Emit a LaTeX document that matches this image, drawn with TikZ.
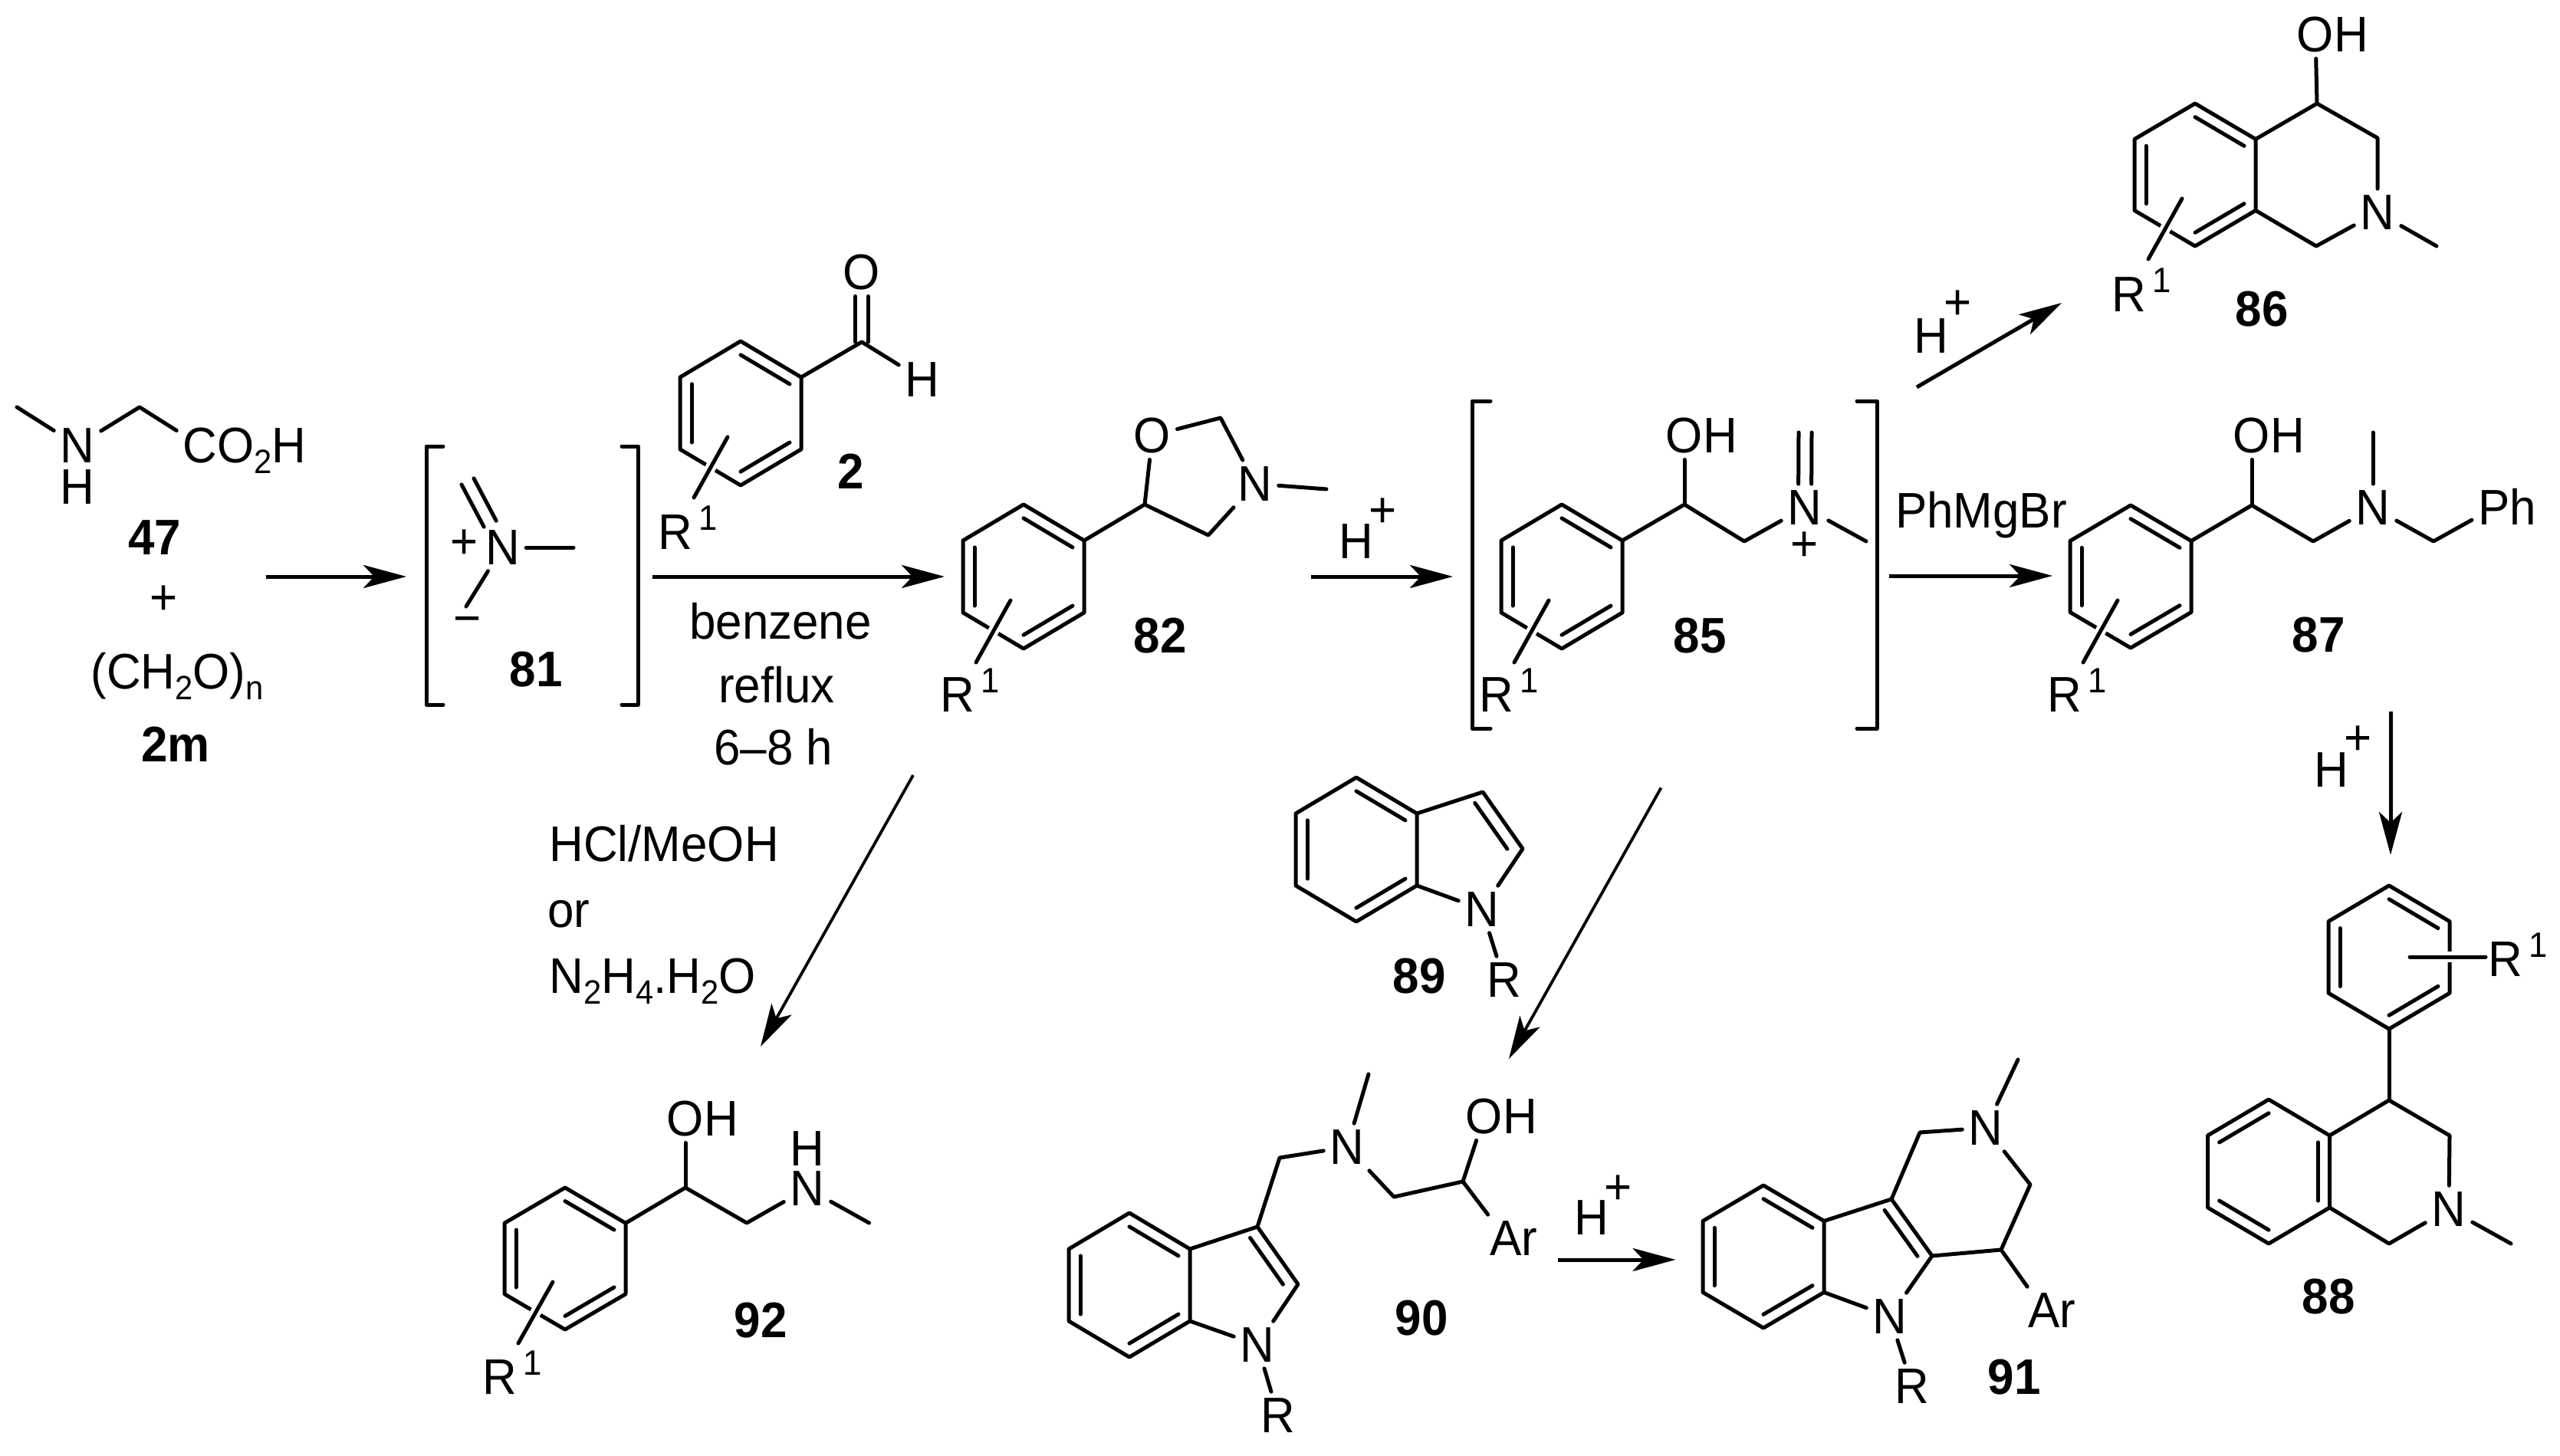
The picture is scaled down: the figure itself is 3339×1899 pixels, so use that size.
\documentclass[tikz,border=0pt]{standalone}
\usepackage{fontspec}
\setmainfont[FakeStretch=0.95]{Liberation Sans}
\usetikzlibrary{arrows.meta,calc}
\newcommand\sbs[1]{\raisebox{-7pt}{\fontsize{22}{22}\selectfont #1}}
\newcommand\Rone{R\smash{\rlap{\kern4pt\raisebox{12.5pt}{\fontsize{23}{23}\selectfont 1}}}}
\newcommand\OH{O\smash{\rlap{H}}}
\tikzset{
  x=0.5pt,y=-0.5pt,
  bond/.style={line width=2.5pt,line cap=round,line join=round},
  halo/.style={white,line width=7pt},
  rxn/.style={line width=2.5pt,-{Stealth[length=28pt,width=15pt,inset=7pt]}},
  rxnthin/.style={line width=1.9pt,-{Stealth[length=28pt,width=15pt,inset=7pt]}},
  atom/.style={inner sep=4pt,font=\fontsize{32.6}{36}\selectfont},
  tag/.style={inner sep=0pt,font=\fontsize{32.6}{36}\selectfont},
  lab/.style={anchor=base,inner sep=0pt,font=\fontsize{32.6}{36}\selectfont},
  num/.style={anchor=base,inner sep=0pt,font=\fontsize{32.6}{36}\selectfont\bfseries},
}
% hexagon: name, cx, cy, half width, radius
\newcommand\hexa[5]{%
  \coordinate (#1c) at (#2,#3);
  \coordinate (#1t) at (#2,{#3-#5});
  \coordinate (#1b) at (#2,{#3+#5});
  \coordinate (#1ur) at ({#2+#4},{#3-#5/2});
  \coordinate (#1lr) at ({#2+#4},{#3+#5/2});
  \coordinate (#1ul) at ({#2-#4},{#3-#5/2});
  \coordinate (#1ll) at ({#2-#4},{#3+#5/2});
  \draw[bond] (#1t)--(#1ur)--(#1lr)--(#1b)--(#1ll)--(#1ul)--cycle;
}
\newcommand\inb[3]{\draw[bond] ($(#1)!.19!(#3)$) -- ($(#2)!.19!(#3)$);}
% standard aromatic pattern
\newcommand\arom[1]{\inb{#1t}{#1ur}{#1c}\inb{#1lr}{#1b}{#1c}\inb{#1ll}{#1ul}{#1c}}
\newcommand\aromb[1]{\inb{#1ul}{#1t}{#1c}\inb{#1ur}{#1lr}{#1c}\inb{#1b}{#1ll}{#1c}}
% ring substituent with halo: start, end
\newcommand\subst[2]{\draw[halo] (#1) -- (#2); \draw[bond] (#1) -- (#2);}
\begin{document}
\begin{tikzpicture}
\fill[white] (0,0) rectangle (3339,1899);
\useasboundingbox (0,0) rectangle (3339,1899);

% ---- 47
\coordinate (me47) at (22,531);
\coordinate (ch47) at (182,531);
\node[atom] (n47) at (101,581) {N};
\node[tag] (h47) at (101,635) {H};
\node[atom] (co47) at (261,581) {C\smash{\rlap{O\sbs{2}H}}};
\draw[bond] (me47) -- (n47);
\draw[bond] (n47) -- (ch47) -- (co47);
\node[num] (l47) at (202,723) {47};
\node[tag] (plus47) at (214,783) {+};
\node[lab,anchor=base west] (ch2o) at (118,898) {(CH\sbs{2}O)\sbs{n}};
\node[num] (l2m) at (229,993) {2m};
\coordinate (a1s) at (347,752);
\coordinate (a1e) at (530,752);
\draw[rxn] (a1s) -- (a1e);

% ---- 81
\draw[bond] (578,582) -- (556,582) -- (556,919) -- (578,919);
\draw[bond] (811,582) -- (832,582) -- (832,919) -- (811,919);
\node[atom] (n81) at (655.5,714) {N};
\node[tag] (p81) at (606,710) {+};
\node[tag] (m81) at (610,816) {−};
\coordinate (db81) at (610,628);
\coordinate (me81) at (748,714);
\coordinate (low81) at (608,791);
\draw[bond,transform canvas={xshift=4pt,yshift=2pt}] (db81) -- (n81);
\draw[bond,transform canvas={xshift=-4pt,yshift=-2pt}] (db81) -- (n81);
\draw[bond] (n81) -- (me81);
\draw[bond] (n81) -- (low81);
\node[num] (l81) at (699,895) {81};

% ---- 2
\hexa{a}{966}{539}{79}{94}
\arom{a}
\coordinate (ca) at (1124,446);
\node[atom] (oa) at (1124,355) {O};
\node[atom] (ha) at (1203,495) {H};
\draw[bond] (aur) -- (ca) -- (ha);
\draw[bond,transform canvas={xshift=-4.25pt}] (ca) -- (oa);
\draw[bond,transform canvas={xshift=4.25pt}] (ca) -- (oa);
\coordinate (ra1) at (949,570);
\coordinate (ra2) at (905,649);
\subst{ra1}{ra2}
\node[atom] (ra) at (881,694) {\Rone};
\node[num] (l2) at (1110,637) {2};

\coordinate (a2s) at (851,752);
\coordinate (a2e) at (1232,752);
\draw[rxn] (a2s) -- (a2e);
\node[lab] (t1) at (1018,833) {benzene};
\node[lab] (t2) at (1013,916) {reflux};
\node[lab] (t3) at (1009,997) {6–8 h};

% ---- 82
\hexa{b}{1335}{752}{79}{94}
\arom{b}
\coordinate (c5) at (1493,658);
\coordinate (c2) at (1592,545);
\coordinate (c4) at (1576,698);
\coordinate (me82) at (1730,638);
\node[atom] (o82) at (1503,568) {O};
\node[atom] (n82) at (1637,631) {N};
\draw[bond] (bur) -- (c5) -- (o82) -- (c2) -- (n82) -- (c4) -- (c5);
\draw[bond] (n82) -- (me82);
\coordinate (rb1) at (1318,783);
\coordinate (rb2) at (1273,864);
\subst{rb1}{rb2}
\node[atom] (rb) at (1249,906) {\Rone};
\node[num] (l82) at (1513,851) {82};

\coordinate (a3s) at (1710,752);
\coordinate (a3e) at (1895,752);
\draw[rxn] (a3s) -- (a3e);
\node[tag] (h3) at (1769,706) {H};
\node[tag] (p3) at (1804,669) {+};

% ---- 85
\draw[bond] (1944,523) -- (1920,523) -- (1920,950) -- (1944,950);
\draw[bond] (2422,523) -- (2448,523) -- (2448,950) -- (2422,950);
\hexa{d}{2037}{752}{79}{94}
\arom{d}
\coordinate (d1) at (2197,658);
\coordinate (d2) at (2275,706);
\coordinate (dme) at (2434,706);
\coordinate (ddb) at (2354.5,564);
\node[atom] (o85) at (2197,568) {\OH};
\node[atom] (n85) at (2354,662) {N};
\node[tag] (p85) at (2354,713) {+};
\draw[bond] (dur) -- (d1) -- (d2) -- (n85) -- (dme);
\draw[bond] (d1) -- (o85);
\draw[bond,transform canvas={xshift=-4.25pt}] (ddb) -- (n85);
\draw[bond,transform canvas={xshift=4.25pt}] (ddb) -- (n85);
\coordinate (rd1) at (2020,783);
\coordinate (rd2) at (1975,864);
\subst{rd1}{rd2}
\node[atom] (rd) at (1952,906) {\Rone};
\node[num] (l85) at (2217,851) {85};

% ---- 86
\coordinate (a4s) at (2500,505);
\coordinate (a4e) at (2689,395);
\draw[rxn] (a4s) -- (a4e);
\node[tag] (h4) at (2519,438) {H};
\node[tag] (p4) at (2554,398) {+};
\hexa{e}{2863}{228}{79}{93}
\arom{e}
\coordinate (e4) at (3022,135);
\coordinate (e3) at (3101,180);
\coordinate (e1) at (3021,321);
\coordinate (eme) at (3178,321);
\node[atom] (o86) at (3020,45) {\OH};
\node[atom] (n86) at (3101,277) {N};
\draw[bond] (eur) -- (e4) -- (e3) -- (n86) -- (e1) -- (elr);
\draw[bond] (e4) -- (o86);
\draw[bond] (n86) -- (eme);
\coordinate (re1) at (2846,259);
\coordinate (re2) at (2802,338);
\subst{re1}{re2}
\node[atom] (re) at (2777,384) {\Rone};
\node[num] (l86) at (2950,425) {86};

% ---- 87
\node[lab] (t4) at (2584,688) {PhMgBr};
\coordinate (a5s) at (2464,751);
\coordinate (a5e) at (2677,751);
\draw[rxn] (a5s) -- (a5e);
\hexa{f}{2779}{752}{79}{93}
\arom{f}
\coordinate (f1) at (2937,659);
\coordinate (f2) at (3017,706);
\coordinate (f3) at (3174,706);
\coordinate (fme) at (3095,564);
\node[atom] (o87) at (2937,568) {\OH};
\node[atom] (n87) at (3095,662) {N};
\node[atom] (ph87) at (3253,662) {P\smash{\rlap{h}}};
\draw[bond] (fur) -- (f1) -- (f2) -- (n87) -- (f3) -- (ph87);
\draw[bond] (f1) -- (o87);
\draw[bond] (n87) -- (fme);
\coordinate (rf1) at (2762,783);
\coordinate (rf2) at (2717,864);
\subst{rf1}{rf2}
\node[atom] (rf) at (2693,906) {\Rone};
\node[num] (l87) at (3024,850) {87};

% ---- 88
\coordinate (a6s) at (3118,928);
\coordinate (a6e) at (3118,1115);
\draw[rxn] (a6s) -- (a6e);
\node[tag] (h6) at (3041,1004) {H};
\node[tag] (p6) at (3076,966) {+};
\hexa{g}{3116}{1248.5}{79}{93.5}
\arom{g}
\coordinate (rg1) at (3143,1248);
\coordinate (rg2) at (3242,1248);
\subst{rg1}{rg2}
\node[atom] (rg) at (3268,1251) {\Rone};
\hexa{k}{2959}{1528}{79.5}{94}
\aromb{k}
\coordinate (k4) at (3116,1435);
\coordinate (k3) at (3195,1481);
\coordinate (k1) at (3116,1622);
\coordinate (kme) at (3275,1622);
\node[atom] (n88) at (3194,1577) {N};
\draw[bond] (gb) -- (k4);
\draw[bond] (kur) -- (k4) -- (k3) -- (n88) -- (k1) -- (klr);
\draw[bond] (n88) -- (kme);
\node[num] (l88) at (3037,1713) {88};

% ---- 92
\coordinate (a7s) at (1191,1011);
\coordinate (a7e) at (992,1365);
\draw[rxnthin] (a7s) -- (a7e);
\node[lab,anchor=base west] (t5) at (716,1123) {HCl/MeOH};
\node[lab,anchor=base west] (t6) at (714,1209) {or};
\node[lab,anchor=base west] (t7) at (716,1295) {N\sbs{2}H\sbs{4}.H\sbs{2}O};
\hexa{m}{737}{1641.5}{79}{92.5}
\arom{m}
\coordinate (m1) at (894,1549);
\coordinate (m2) at (974,1595);
\coordinate (mme) at (1133.5,1595);
\node[atom] (o92) at (894,1459) {\OH};
\node[atom] (n92) at (1053,1550) {N};
\node[tag] (h92) at (1053,1498) {H};
\draw[bond] (mur) -- (m1) -- (m2) -- (n92) -- (mme);
\draw[bond] (m1) -- (o92);
\coordinate (rm1) at (721,1672);
\coordinate (rm2) at (676,1752);
\subst{rm1}{rm2}
\node[atom] (rm) at (652,1796) {\Rone};
\node[num] (l92) at (992,1744) {92};

% ---- 89
\hexa{p}{1769}{1108}{79}{94}
\arom{p}
\coordinate (p5a) at (1934,1033);
\coordinate (p5b) at (1986,1107);
\coordinate (p5c) at (1880,1108);
\node[atom] (n89) at (1933,1186) {N};
\node[atom] (r89) at (1961.5,1278) {R};
\draw[bond] (pur) -- (p5a) -- (p5b) -- (n89) -- (plr);
\draw[bond] (n89) -- (r89);
\inb{p5a}{p5b}{p5c}
\node[num] (l89) at (1851,1295) {89};

\coordinate (a8s) at (2166.5,1027.5);
\coordinate (a8e) at (1968,1381);
\draw[rxnthin] (a8s) -- (a8e);

% ---- 90
\hexa{q}{1473}{1676}{79}{94}
\arom{q}
\coordinate (q5a) at (1640,1600);
\coordinate (q5b) at (1693,1675);
\coordinate (q5c) at (1590,1676);
\node[atom] (n90r) at (1640,1754) {N};
\node[atom] (r90) at (1667,1846) {R};
\draw[bond] (qur) -- (q5a) -- (q5b) -- (n90r) -- (qlr);
\draw[bond] (n90r) -- (r90);
\inb{q5a}{q5b}{q5c}
\coordinate (q6) at (1669,1510);
\coordinate (q7) at (1818,1561);
\coordinate (q8) at (1908,1541);
\coordinate (qme) at (1785,1401);
\node[atom] (n90) at (1757,1496) {N};
\node[atom] (o90) at (1936,1456) {\OH};
\node[atom] (ar90) at (1964,1615) {A\smash{\rlap{r}}};
\draw[bond] (q5a) -- (q6) -- (n90) -- (q7) -- (q8) -- (ar90);
\draw[bond] (q8) -- (o90);
\draw[bond] (n90) -- (qme);
\node[num] (l90) at (1854,1741) {90};

\coordinate (a9s) at (2032,1643);
\coordinate (a9e) at (2185.5,1643);
\draw[rxn] (a9s) -- (a9e);
\node[tag] (h9) at (2076,1588) {H};
\node[tag] (p9) at (2111,1552) {+};

% ---- 91
\hexa{u}{2300}{1639}{79}{93}
\arom{u}
\coordinate (u5a) at (2467,1564);
\coordinate (u5b) at (2520,1638);
\coordinate (u5c) at (2420,1640);
\coordinate (u6) at (2504,1477);
\coordinate (u7) at (2648,1545);
\coordinate (u8) at (2610,1630);
\coordinate (ume) at (2632,1382);
\node[atom] (n91r) at (2465,1717) {N};
\node[atom] (r91) at (2494,1808) {R};
\node[atom] (n91) at (2590,1471) {N};
\node[atom] (ar91) at (2666,1709) {A\smash{\rlap{r}}};
\draw[bond] (uur) -- (u5a) -- (u5b) -- (n91r) -- (ulr);
\draw[bond] (n91r) -- (r91);
\inb{u5a}{u5b}{u5c}
\draw[bond] (u5a) -- (u6) -- (n91) -- (u7) -- (u8) -- (u5b);
\draw[bond] (u8) -- (ar91);
\draw[bond] (n91) -- (ume);
\node[num] (l91) at (2627,1818) {91};
\end{tikzpicture}
\end{document}
